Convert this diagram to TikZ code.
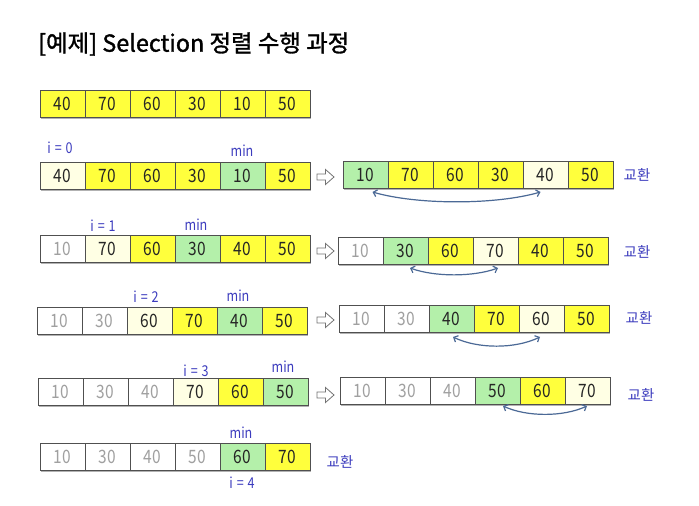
\documentclass[tikz,border=0pt]{standalone}
\usepackage{fontspec}
\setmainfont{Noto Sans CJK KR}
\newfontfamily\numf[FakeStretch=0.84]{Noto Sans CJK KR}
\newfontfamily\titlef[FakeBold=1.3]{Noto Sans CJK KR}
\usetikzlibrary{arrows.meta,shadows}
\definecolor{cy}{RGB}{255,255,60}
\definecolor{cg}{RGB}{180,240,170}
\definecolor{cp}{RGB}{255,255,228}
\definecolor{bd}{RGB}{80,80,80}
\definecolor{lab}{RGB}{60,60,190}
\definecolor{dn}{RGB}{160,160,160}
\definecolor{arc}{RGB}{75,105,150}
\tikzset{
 cell/.style={draw=bd, line width=0.9bp, minimum width=45bp, minimum height=27bp, inner sep=0pt, outer sep=0pt,
   font=\numf\fontsize{18.5}{20}\selectfont, text=black!85,
   drop shadow={shadow xshift=0.6bp, shadow yshift=-1.6bp, opacity=0.3, fill=black}},
 cY/.style={fill=cy}, cG/.style={fill=cg}, cP/.style={fill=cp}, cW/.style={fill=white,text=dn},
 lbl/.style={text=lab, font=\numf\fontsize{15}{17}\selectfont, inner sep=0pt},
 kr/.style={text=lab, font=\fontsize{14.5}{16}\selectfont, inner sep=0pt},
 swaparc/.style={draw=arc, line width=1.2bp, {Straight Barb[length=3.5bp,width=7bp]}-{Straight Barb[length=3.5bp,width=7bp]}},
 nextarr/.style={draw=black!55, fill=white, line width=0.8bp, line join=miter},
}
\newcommand\cellrow[4]{\foreach \v/\s [count=\k] in {#4}{\node[cell,\s] (#1\k) at ({#2+45*\k-22.5},{#3+13.5}) {\v};}}
\newcommand\nextarrow[3]{\coordinate (#1) at (#2,#3);
  \draw[nextarr] ([shift={(-8.5,-3)}]#1) -- ([shift={(0,-3)}]#1) -- ([shift={(0,-7.5)}]#1) -- ([shift={(8.5,0)}]#1)
   -- ([shift={(0,7.5)}]#1) -- ([shift={(0,3)}]#1) -- ([shift={(-8.5,3)}]#1) -- cycle;}
\newcommand\ilab[1]{i\hspace{4bp}=\hspace{4bp}#1}
\begin{document}
\begin{tikzpicture}[x=1bp,y=-1bp]
\fill[white] (0,0) rectangle (699,506);
\useasboundingbox (0,0) rectangle (699,506);
\node[anchor=west, inner sep=0pt, font=\titlef\fontsize{23.5}{26}\selectfont] (title) at (38,44) {[예제] Selection 정렬 수행 과정};
\cellrow{a}{40}{90.5}{40/cY,70/cY,60/cY,30/cY,10/cY,50/cY}
\cellrow{b}{40}{162}{40/cP,70/cY,60/cY,30/cY,10/cG,50/cY}
\cellrow{B}{343}{161}{10/cG,70/cY,60/cY,30/cY,40/cP,50/cY}
\cellrow{c}{40}{235}{10/cW,70/cP,60/cY,30/cG,40/cY,50/cY}
\cellrow{C}{338}{237}{10/cW,30/cG,60/cY,70/cP,40/cY,50/cY}
\cellrow{d}{37}{307}{10/cW,30/cW,60/cP,70/cY,40/cG,50/cY}
\cellrow{D}{339}{305}{10/cW,30/cW,40/cG,70/cY,60/cP,50/cY}
\cellrow{e}{38}{378}{10/cW,30/cW,40/cW,70/cP,60/cY,50/cG}
\cellrow{E}{340}{377}{10/cW,30/cW,40/cW,50/cG,60/cY,70/cP}
\cellrow{f}{40}{443}{10/cW,30/cW,40/cW,50/cW,60/cG,70/cY}
% next arrows
\nextarrow{n1}{325.5}{177}
\nextarrow{n2}{325.5}{251}
\nextarrow{n3}{325.5}{320}
\nextarrow{n4}{325.5}{395}
% labels
\node[lbl] (i0) at (60,148) {\ilab{0}};
\node[lbl] (m1) at (242,151) {min};
\node[lbl] (i1) at (103,226) {\ilab{1}};
\node[lbl] (m2) at (196,225) {min};
\node[lbl] (i2) at (146,297) {\ilab{2}};
\node[lbl] (m3) at (238,296) {min};
\node[lbl] (i3) at (196,371) {\ilab{3}};
\node[lbl] (m4) at (283,367) {min};
\node[lbl] (m5) at (241,433) {min};
\node[lbl] (i4) at (242,483) {\ilab{4}};
\node[kr] (x1) at (637,175) {교환};
\node[kr] (x2) at (637,252) {교환};
\node[kr] (x3) at (639,318) {교환};
\node[kr] (x4) at (641,395) {교환};
\node[kr] (x5) at (340,462) {교환};
% swap arcs
\draw[swaparc] ([shift={(7,4)}]B1.south) .. controls +(45,13) and +(-45,13) .. ([shift={(-5,4)}]B5.south);
\draw[swaparc] ([shift={(4.5,4)}]C2.south) .. controls +(25,9) and +(-25,9) .. ([shift={(2.5,4)}]C4.south);
\draw[swaparc] ([shift={(1.5,5)}]D3.south) .. controls +(25,12) and +(-25,12) .. ([shift={(-1.5,5)}]D5.south);
\draw[swaparc] ([shift={(5.5,2)}]E4.south) .. controls +(24,11) and +(-24,11) .. ([shift={(-0.5,2)}]E6.south);
\end{tikzpicture}
\end{document}
